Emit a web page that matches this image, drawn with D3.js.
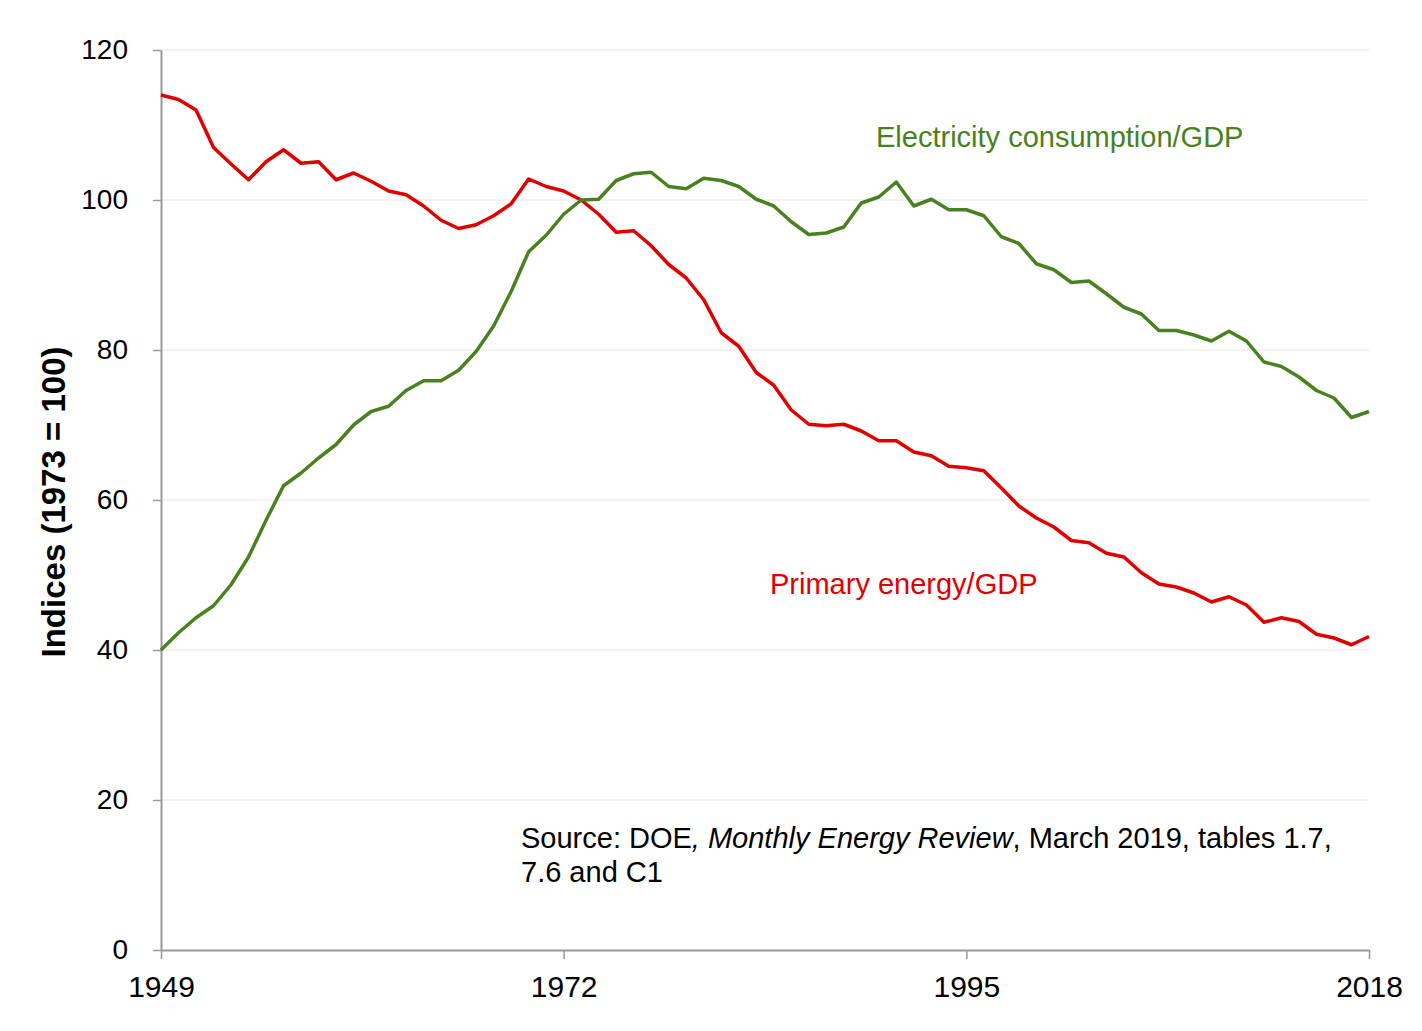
<!DOCTYPE html>
<html>
<head>
<meta charset="utf-8">
<script src="https://cdn.jsdelivr.net/npm/d3@7"></script>
<style>
  body { margin: 0; background: #fff; }
  text { font-family: "Liberation Sans", Arial, sans-serif; }
</style>
</head>
<body>
<svg width="1422" height="1031"></svg>
<script>
var years = d3.range(1949, 2019);
var primaryEnergy = [
  114.0, 113.4, 112.0, 107.0, 104.8, 102.7, 105.1, 106.7, 104.9, 105.1,
  102.7, 103.6, 102.5, 101.2, 100.7, 99.2, 97.3, 96.2, 96.7, 97.9,
  99.5, 102.8, 101.8, 101.2, 100.0, 98.1, 95.7, 95.9, 93.9, 91.4,
  89.6, 86.7, 82.3, 80.5, 77.0, 75.3, 72.0, 70.1, 69.9, 70.1,
  69.2, 67.9, 67.9, 66.4, 65.9, 64.5, 64.3, 63.9, 61.6, 59.2,
  57.6, 56.4, 54.6, 54.3, 52.9, 52.4, 50.3, 48.8, 48.4, 47.6,
  46.4, 47.1, 46.0, 43.7, 44.3, 43.8, 42.1, 41.6, 40.7, 41.8
];
var electricity = [
  40.0, 42.3, 44.3, 45.9, 48.7, 52.4, 57.3, 61.9, 63.6, 65.6,
  67.4, 70.0, 71.8, 72.5, 74.6, 75.9, 75.9, 77.3, 79.8, 83.2,
  87.8, 93.1, 95.3, 98.1, 100.0, 100.1, 102.6, 103.5, 103.7, 101.8,
  101.5, 102.9, 102.6, 101.8, 100.1, 99.2, 97.1, 95.4, 95.6, 96.4,
  99.6, 100.4, 102.4, 99.2, 100.1, 98.7, 98.7, 97.9, 95.1, 94.2,
  91.5, 90.7, 89.0, 89.2, 87.5, 85.7, 84.8, 82.6, 82.6, 82.0,
  81.2, 82.5, 81.2, 78.4, 77.8, 76.4, 74.6, 73.6, 71.0, 71.8
];
var xTicks = [1949, 1972, 1995, 2018];
var yTicks = [0, 20, 40, 60, 80, 100, 120];

var svg = d3.select("svg");
var plotLeft = 161, plotRight = 1369, plotTop = 50, plotBottom = 950;

var x = d3.scaleLinear().domain([1949, 2018]).range([plotLeft, plotRight]);
var y = d3.scaleLinear().domain([0, 120]).range([plotBottom, plotTop]);

// gridlines
svg.append("g").selectAll("line")
    .data(yTicks.filter(function (d) { return d > 0; }))
    .enter().append("line")
    .attr("x1", plotLeft).attr("x2", plotRight)
    .attr("y1", function (d) { return y(d); })
    .attr("y2", function (d) { return y(d); })
    .attr("stroke", "#eeeeee")
    .attr("stroke-width", 1.5);

// axes
var yAxis = svg.append("g")
    .attr("transform", "translate(" + plotLeft + ",0)")
    .call(d3.axisLeft(y).tickValues(yTicks).tickSize(8).tickPadding(25).tickSizeOuter(0));
var xAxis = svg.append("g")
    .attr("transform", "translate(0," + plotBottom + ")")
    .call(d3.axisBottom(x).tickValues(xTicks).tickFormat(d3.format("d")).tickSize(9).tickPadding(17).tickSizeOuter(0));

[yAxis, xAxis].forEach(function (a) {
    a.select(".domain").attr("stroke", "#999").attr("stroke-width", 2);
    a.selectAll(".tick line").attr("stroke", "#999").attr("stroke-width", 1.5);
    a.selectAll(".tick text")
        .attr("font-family", "Liberation Sans, Arial, sans-serif")
        .attr("fill", "#000");
});
yAxis.selectAll(".tick text").attr("font-size", 28);
xAxis.selectAll(".tick text").attr("font-size", 30);

svg.append("text")
    .attr("transform", "translate(65,502) rotate(-90)")
    .attr("text-anchor", "middle")
    .attr("font-size", 33)
    .attr("font-weight", "bold")
    .text("Indices (1973 = 100)");

// lines
var line = d3.line()
    .x(function (d, i) { return x(years[i]); })
    .y(function (d) { return y(d); });

svg.append("path")
    .datum(primaryEnergy)
    .attr("d", line)
    .attr("fill", "none")
    .attr("stroke", "#e00000")
    .attr("stroke-width", 3.5)
    .attr("stroke-linejoin", "round");

svg.append("path")
    .datum(electricity)
    .attr("d", line)
    .attr("fill", "none")
    .attr("stroke", "#4a8120")
    .attr("stroke-width", 3.5)
    .attr("stroke-linejoin", "round");

// labels
svg.append("text")
    .attr("x", 876).attr("y", 147)
    .attr("font-size", 29)
    .attr("fill", "#4a8120")
    .text("Electricity consumption/GDP");

svg.append("text")
    .attr("x", 770).attr("y", 594)
    .attr("font-size", 29)
    .attr("fill", "#e00000")
    .text("Primary energy/GDP");

var src = svg.append("text")
    .attr("x", 521).attr("y", 848)
    .attr("font-size", 29)
    .attr("fill", "#000");
src.append("tspan").text("Source: DOE");
src.append("tspan").attr("font-style", "italic").text(", Monthly Energy Review");
src.append("tspan").text(", March 2019, tables 1.7,");
svg.append("text")
    .attr("x", 521).attr("y", 882)
    .attr("font-size", 29)
    .attr("fill", "#000")
    .text("7.6 and C1");
</script>
</body>
</html>
